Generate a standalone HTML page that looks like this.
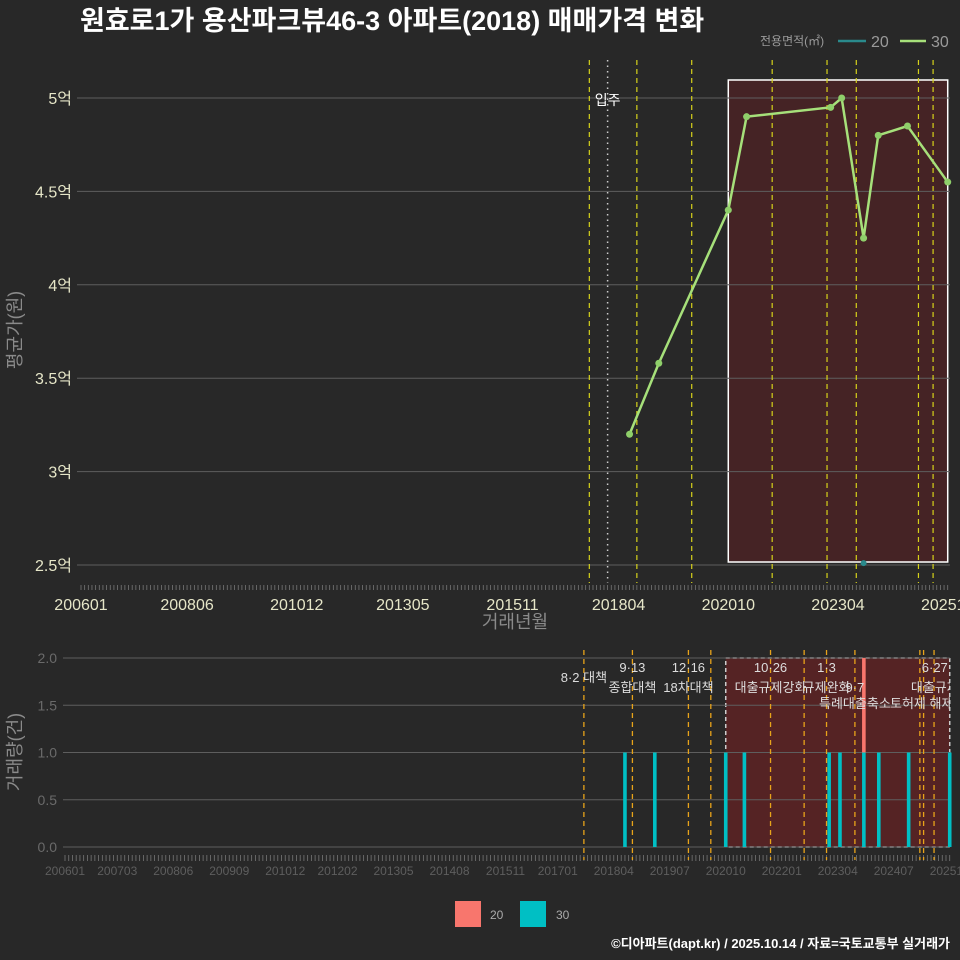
<!DOCTYPE html>
<html><head><meta charset="utf-8">
<style>
html,body{margin:0;padding:0;background:#282828;}
svg{display:block;font-family:"Liberation Sans","Noto Sans CJK KR",sans-serif;}
</style></head>
<body>
<svg id="chart" width="960" height="960" viewBox="0 0 960 960" xmlns="http://www.w3.org/2000/svg">
<rect width="960" height="960" fill="#282828"/>
<text x="80" y="30" fill="#ffffff" font-size="27" font-weight="bold">원효로1가 용산파크뷰46-3 아파트(2018) 매매가격 변화</text>
<g>
<text x="760" y="45" fill="#9a9a9a" font-size="12">전용면적(㎡)</text>
<line x1="838" y1="41" x2="866" y2="41" stroke="#2a8a8c" stroke-width="2.5"/>
<text x="871" y="47" fill="#9a9a9a" font-size="16">20</text>
<line x1="900" y1="41" x2="926" y2="41" stroke="#a6e07a" stroke-width="2.5"/>
<text x="931" y="47" fill="#9a9a9a" font-size="16">30</text>
</g>
<g id="topPanel"></g>
<g id="botPanel"></g>
<text x="515" y="628" fill="#8a8a8a" font-size="18" text-anchor="middle">거래년월</text>
<text transform="translate(21,330) rotate(-90)" fill="#8a8a8a" font-size="18" text-anchor="middle">평균가(원)</text>
<text transform="translate(21,752) rotate(-90)" fill="#8a8a8a" font-size="18" text-anchor="middle">거래량(건)</text>
<g>
<rect x="455" y="901" width="26" height="26" fill="#f8766d"/>
<text x="490" y="919" fill="#aaaaaa" font-size="12">20</text>
<rect x="520" y="901" width="26" height="26" fill="#00bfc4"/>
<text x="556" y="919" fill="#aaaaaa" font-size="12">30</text>
</g>
<text x="950" y="948" fill="#ffffff" font-size="13" font-weight="bold" text-anchor="end">©디아파트(dapt.kr) / 2025.10.14 / 자료=국토교통부 실거래가</text>
</svg>
<script>
// months since 2006-01
const priceMonths30 = [150,158,177,182,205,208,214,218,226,237];
const priceValues30 = [3.2,3.58,4.4,4.9,4.95,5.0,4.25,4.8,4.85,4.55];
const priceMonths20 = [214];
const priceValues20 = [2.51];
const volMonths30 = [150,158,177,182,204.7,207.6,214,218,226,237];
const volValues30 = [1,1,1,1,1,1,1,1,1,1];
const volMonths20 = [214];
const volValues20 = [1];
const yTicksTop = [2.5,3,3.5,4,4.5,5];
const yTickLabelsTop = ["2.5억","3억","3.5억","4억","4.5억","5억"];
const yTicksBot = [0,0.5,1,1.5,2];
const xTickMonthsTop = [0,29,59,88,118,147,177,207,237];
const xTickLabelsTop = ["200601","200806","201012","201305","201511","201804","202010","202304","202510"];
const xTickMonthsBot = [0,14,29,44,59,73,88,103,118,132,147,162,177,192,207,222,237];
const xTickLabelsBot = ["200601","200703","200806","200909","201012","201202","201305","201408","201511","201701","201804","201907","202010","202201","202304","202407","202510"];
const policyTop = [139,152,167,189,204,212,229,233];
const policyBot = [139,152,167,173,189,198,204,211.6,229,230,232.8];
const policyLabels = [["8·2 대책","",139,0],["9·13","종합대책",152,1],["12·16","18차대책",167,1],["10·26","대출규제강화",189,1],["1·3","규제완화",204,1],["","9·7",211.6,1],["","특례대출축소",211.6,2],["","토허제 해제",229.5,2],["6·27","대출규제",233,1]];
const moveIn = 144;

const NS="http://www.w3.org/2000/svg";
function mk(p,tag,a){const el=document.createElementNS(NS,tag);for(const k in a)el.setAttribute(k,a[k]);p.appendChild(el);return el;}
const xT=m=>81+3.657*m, yT=v=>565-(v-2.5)*186.8;
const xB=m=>65+3.733*m, yB=v=>847-v*94.5;
const pTop=document.getElementById('topPanel'), pBot=document.getElementById('botPanel');

// top panel
let el=mk(pTop,'rect',{x:xT(177),y:80,width:xT(237)-xT(177),height:482,fill:'#4a2224','fill-opacity':0.85,stroke:'#ffffff','stroke-width':1.5});


yTicksTop.forEach((v,i)=>{
 let g=mk(pTop,'line',{x1:77,x2:950,y1:yT(v),y2:yT(v),stroke:'#5e5e5e','stroke-width':1});
 
 
 let t=mk(pTop,'text',{x:72,y:yT(v)+6,fill:'#e6e6c8','font-size':16,'text-anchor':'end'});t.textContent=yTickLabelsTop[i];
 
 
});
for(let m=0;m<=237;m++){let t=mk(pTop,'line',{x1:xT(m),x2:xT(m),y1:585,y2:590,stroke:'#777','stroke-width':0.8});
 
 }
xTickMonthsTop.forEach((m,i)=>{let t=mk(pTop,'text',{x:xT(m),y:610,fill:'#e6e6c8','font-size':16,'text-anchor':'middle'});t.textContent=xTickLabelsTop[i];
 
 });
policyTop.forEach(m=>{let l=mk(pTop,'line',{x1:xT(m),x2:xT(m),y1:60,y2:583,stroke:'#d6d21a','stroke-width':1.2,'stroke-dasharray':'5,4'});
 
 });
el=mk(pTop,'line',{x1:xT(moveIn),x2:xT(moveIn),y1:60,y2:583,stroke:'#cccccc','stroke-width':1.5,'stroke-dasharray':'1.5,4'});


el=mk(pTop,'text',{x:xT(moveIn),y:105,fill:'#ffffff','font-size':14,'text-anchor':'middle'});el.textContent='입주';


el=mk(pTop,'polyline',{points:priceMonths30.map((m,i)=>xT(m)+','+yT(priceValues30[i])).join(' '),fill:'none',stroke:'#a6e07a','stroke-width':2.5});


priceMonths30.forEach((m,i)=>{let c=mk(pTop,'circle',{cx:xT(m),cy:yT(priceValues30[i]),r:3.5,fill:'#8fcf6a'});
 
 });
priceMonths20.forEach((m,i)=>{let c=mk(pTop,'circle',{cx:xT(m),cy:yT(priceValues20[i]),r:3,fill:'#2a8a8c'});
 
 });

// bottom panel
el=mk(pBot,'rect',{x:xB(177),y:yB(2),width:xB(237)-xB(177),height:yB(0)-yB(2),fill:'#5a2224','fill-opacity':0.9,stroke:'#cccccc','stroke-width':1.5,'stroke-dasharray':'4,3'});


yTicksBot.forEach(v=>{
 let g=mk(pBot,'line',{x1:63,x2:950,y1:yB(v),y2:yB(v),stroke:'#5e5e5e','stroke-width':1});
 
 
 let t=mk(pBot,'text',{x:57,y:yB(v)+5,fill:'#6a6a6a','font-size':14,'text-anchor':'end'});t.textContent=v.toFixed(1);
 
 
});
for(let m=0;m<=237;m++){let t=mk(pBot,'line',{x1:xB(m),x2:xB(m),y1:855,y2:861,stroke:'#777','stroke-width':0.8});
 
 }
xTickMonthsBot.forEach((m,i)=>{let t=mk(pBot,'text',{x:xB(m),y:875,fill:'#5e5e5e','font-size':12,'text-anchor':'middle'});t.textContent=xTickLabelsBot[i];
 
 });
policyBot.forEach(m=>{let l=mk(pBot,'line',{x1:xB(m),x2:xB(m),y1:650,y2:860,stroke:'#e8a31a','stroke-width':1.3,'stroke-dasharray':'5,4'});
 
 });
volMonths30.forEach((m,i)=>{let b=mk(pBot,'rect',{x:xB(m)-1.8,y:yB(volValues30[i]),width:3.6,height:yB(0)-yB(volValues30[i]),fill:'#00bfc4'});
 
 });
volMonths20.forEach((m,i)=>{const base=volValues30[volMonths30.indexOf(m)]||0;let b=mk(pBot,'rect',{x:xB(m)-1.8,y:yB(base+volValues20[i]),width:3.6,height:yB(base)-yB(base+volValues20[i]),fill:'#f8766d'});
 
 });
const clip=mk(pBot,'clipPath',{id:'bclip'});mk(clip,'rect',{x:0,y:640,width:950,height:80});
const lg=mk(pBot,'g',{'clip-path':'url(#bclip)'});
policyLabels.forEach(p=>{
 if(p[3]===0){let t=mk(lg,'text',{x:xB(p[2]),y:682,fill:'#dddddd','font-size':13,'text-anchor':'middle'});t.textContent=p[0];
  
  return;}
 if(p[0]){let t=mk(lg,'text',{x:xB(p[2]),y:672,fill:'#dddddd','font-size':13,'text-anchor':'middle'});t.textContent=p[0];
  
  }
 let t=mk(lg,'text',{x:xB(p[2]),y:p[3]===1?692:708,fill:'#dddddd','font-size':13,'text-anchor':'middle'});t.textContent=p[1];
 
 
});
</script>
</body></html>
